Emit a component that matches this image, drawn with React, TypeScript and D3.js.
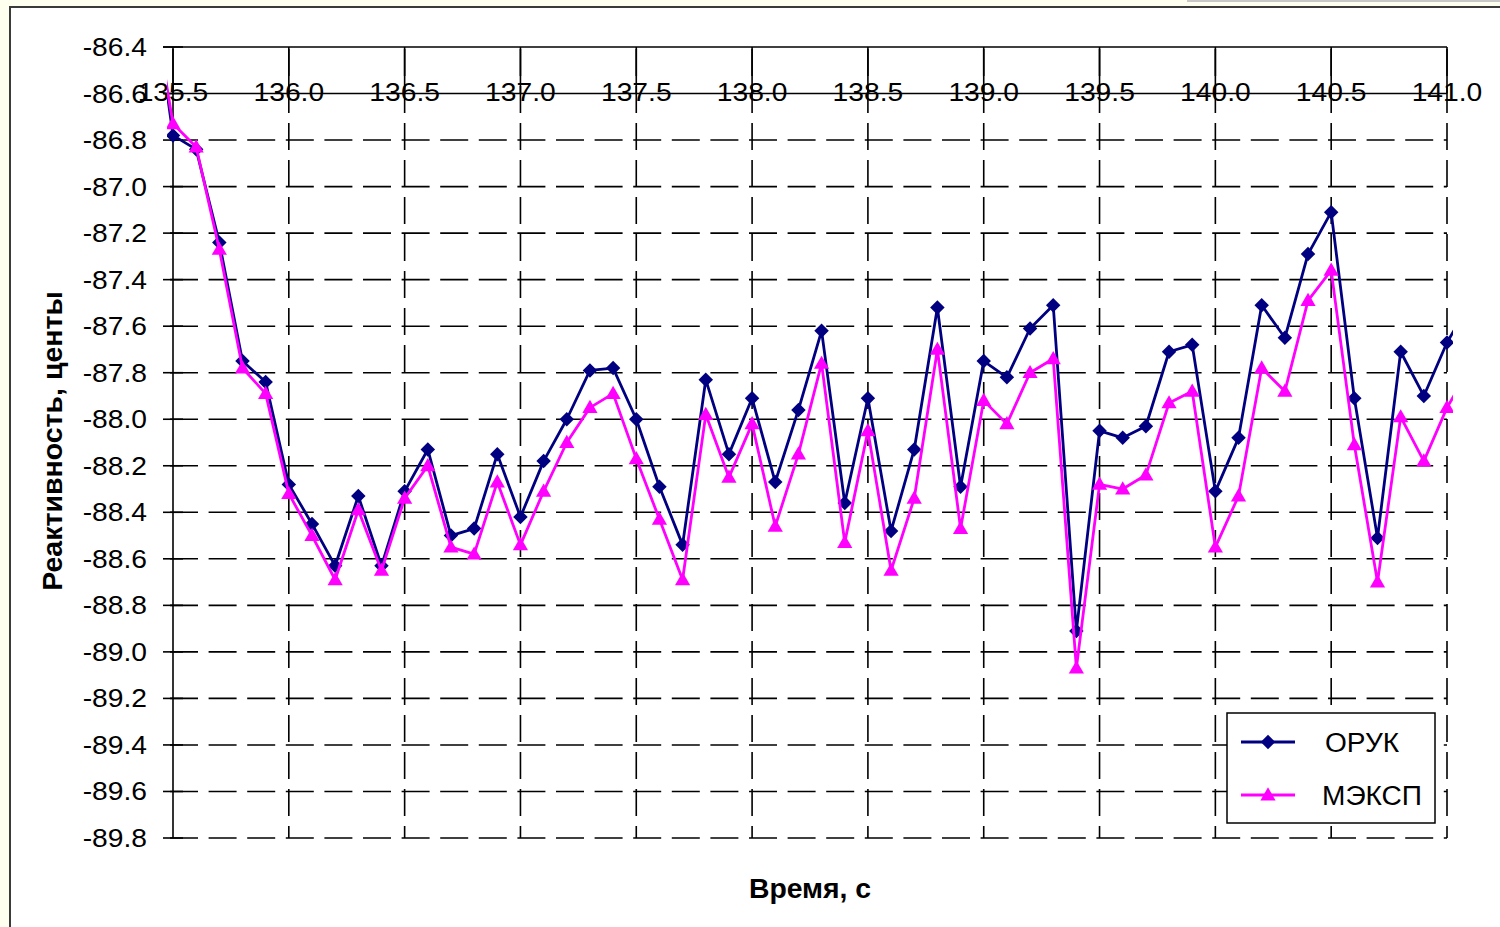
import React from 'react';
import * as d3 from 'd3';

const times = [135.4, 135.5, 135.6, 135.7, 135.8, 135.9, 136.0, 136.1, 136.2, 136.3, 136.4, 136.5, 136.6, 136.7, 136.8, 136.9, 137.0, 137.1, 137.2, 137.3, 137.4, 137.5, 137.6, 137.7, 137.8, 137.9, 138.0, 138.1, 138.2, 138.3, 138.4, 138.5, 138.6, 138.7, 138.8, 138.9, 139.0, 139.1, 139.2, 139.3, 139.4, 139.5, 139.6, 139.7, 139.8, 139.9, 140.0, 140.1, 140.2, 140.3, 140.4, 140.5, 140.6, 140.7, 140.8, 140.9, 141.0, 141.1];

const oruk = [-86.06, -86.78, -86.84, -87.24, -87.75, -87.84, -88.28, -88.45, -88.63, -88.33, -88.63, -88.31, -88.13, -88.50, -88.47, -88.15, -88.42, -88.18, -88.00, -87.79, -87.78, -88.00, -88.29, -88.54, -87.83, -88.15, -87.91, -88.27, -87.96, -87.62, -88.36, -87.91, -88.48, -88.13, -87.52, -88.29, -87.75, -87.82, -87.61, -87.51, -88.91, -88.05, -88.08, -88.03, -87.71, -87.68, -88.31, -88.08, -87.51, -87.65, -87.29, -87.11, -87.91, -88.51, -87.71, -87.90, -87.67, -87.50];

const mexsp = [-86.13, -86.73, -86.83, -87.27, -87.78, -87.89, -88.32, -88.50, -88.69, -88.39, -88.65, -88.34, -88.20, -88.55, -88.58, -88.27, -88.54, -88.31, -88.10, -87.95, -87.89, -88.17, -88.43, -88.69, -87.98, -88.25, -88.02, -88.46, -88.15, -87.76, -88.53, -88.05, -88.65, -88.34, -87.70, -88.47, -87.92, -88.02, -87.80, -87.74, -89.07, -88.28, -88.30, -88.24, -87.93, -87.88, -88.55, -88.33, -87.78, -87.88, -87.49, -87.36, -88.11, -88.70, -87.99, -88.18, -87.95, -87.78];

const xTickValues = [135.5, 136.0, 136.5, 137.0, 137.5, 138.0, 138.5, 139.0, 139.5, 140.0, 140.5, 141.0];
const xTickLabels = ['135.5', '136.0', '136.5', '137.0', '137.5', '138.0', '138.5', '139.0', '139.5', '140.0', '140.5', '141.0'];
const yTickValues = [-86.4, -86.6, -86.8, -87.0, -87.2, -87.4, -87.6, -87.8, -88.0, -88.2, -88.4, -88.6, -88.8, -89.0, -89.2, -89.4, -89.6, -89.8];

const seriesNames = ['ОРУК', 'МЭКСП'];
const seriesColors = ['#000080', '#FF00FF'];

const W = 1500;
const H = 927;
const FONT = '"Liberation Sans", Arial, sans-serif';

export default function App() {
  const x = d3.scaleLinear().domain([135.5, 141.0]).range([173, 1447]);
  const y = d3.scaleLinear().domain([-86.4, -89.8]).range([47, 838]);
  const [, x1] = x.range();
  const [yTop, yBot] = y.range();
  const axisY = y(-86.6);

  const line = d3
    .line<number>()
    .x((_, i) => x(times[i]))
    .y((d) => y(d));

  const diamond = d3.symbol(d3.symbolSquare, 105)()!;
  const triangle = d3.symbol(d3.symbolTriangle, 100)()!;

  const series = [oruk, mexsp];

  const marker = (si: number, px: number, py: number, key: string | number) =>
    si === 0 ? (
      <path key={key} d={diamond} transform={`translate(${px},${py}) rotate(45)`} fill={seriesColors[0]} />
    ) : (
      <path key={key} d={triangle} transform={`translate(${px},${py + 1})`} fill={seriesColors[1]} />
    );

  const sx = 1.13;

  return (
    <svg
      width={W}
      height={H}
      style={{ position: 'absolute', left: 0, top: 0, display: 'block' }}
      fontFamily={FONT}
    >
      <defs>
        <clipPath id="plotClip">
          <rect x={167} y={40} width={1453 - 167} height={810} />
        </clipPath>
      </defs>
      <rect x={0} y={0} width={W} height={H} fill="#FFFFF0" />
      <rect x={1187} y={0} width={W - 1187} height={2} fill="#C8C8C8" />
      <rect x={10} y={7} width={W} height={H} fill="#FFFFFF" stroke="#3a3a3a" strokeWidth={2} />

      {/* horizontal gridlines */}
      {yTickValues.map((v) => {
        const gy = y(v);
        const solid = v >= -86.6;
        return (
          <g key={'h' + v}>
            <line
              x1={solid ? 163 : 170}
              x2={x1}
              y1={gy}
              y2={gy}
              stroke="#000"
              strokeWidth={1.6}
              strokeDasharray={solid ? undefined : '28 10.6'}
            />
            <line x1={163} x2={183} y1={gy} y2={gy} stroke="#000" strokeWidth={1.6} />
          </g>
        );
      })}

      {/* vertical gridlines */}
      {xTickValues.map((v) => {
        const gx = x(v);
        return (
          <g key={'v' + v}>
            <line x1={gx} x2={gx} y1={yTop} y2={axisY} stroke="#000" strokeWidth={1.6} />
            <line
              x1={gx}
              x2={gx}
              y1={yTop + 2}
              y2={yBot}
              stroke="#000"
              strokeWidth={1.6}
              strokeDasharray={v === 135.5 ? undefined : '27 10'}
            />
          </g>
        );
      })}

      {/* y tick labels */}
      {yTickValues.map((v) => (
        <text
          key={'yl' + v}
          transform={`translate(147,${y(v) + 9}) scale(${sx},1)`}
          textAnchor="end"
          fontSize={25}
          fill="#000"
        >
          {v.toFixed(1)}
        </text>
      ))}

      {/* x tick labels */}
      {xTickValues.map((v, i) => (
        <text
          key={'xl' + v}
          transform={`translate(${x(v)},${axisY + 7}) scale(${sx},1)`}
          textAnchor="middle"
          fontSize={25}
          fill="#000"
        >
          {xTickLabels[i]}
        </text>
      ))}

      {/* series */}
      <g clipPath="url(#plotClip)">
        {series.map((s, si) => (
          <g key={'s' + si}>
            <path d={line(s)!} fill="none" stroke={seriesColors[si]} strokeWidth={2.8} strokeLinejoin="round" />
            {s.map((v, i) => marker(si, x(times[i]), y(v), i))}
          </g>
        ))}
      </g>

      {/* axis titles */}
      <text
        transform={`translate(62,441) rotate(-90)`}
        textAnchor="middle"
        fontSize={28.5}
        fontWeight="bold"
        fill="#000"
      >
        Реактивность, центы
      </text>
      <text
        transform={`translate(810,898) scale(1.05,1)`}
        textAnchor="middle"
        fontSize={27}
        fontWeight="bold"
        fill="#000"
      >
        Время, с
      </text>

      {/* legend */}
      <g>
        <rect x={1227} y={713} width={208} height={110} fill="#FFFFFF" stroke="#000" strokeWidth={1.5} />
        {seriesNames.map((name, si) => {
          const ly = 742 + si * 53;
          return (
            <g key={'lg' + si}>
              <line x1={1241} x2={1295} y1={ly} y2={ly} stroke={seriesColors[si]} strokeWidth={2.8} />
              {marker(si, 1268, ly, 'm')}
              <text
                transform={`translate(${si === 0 ? 1325 : 1322},${ly + 10}) scale(1.04,1)`}
                fontSize={27}
                fill="#000"
              >
                {name}
              </text>
            </g>
          );
        })}
      </g>
    </svg>
  );
}
